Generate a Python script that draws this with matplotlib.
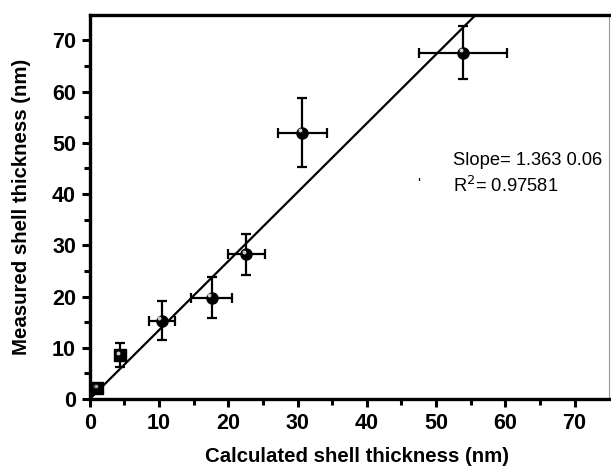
import matplotlib.pyplot as plt
import numpy as np

plt.rcParams['font.family'] = ['Liberation Sans', 'DejaVu Sans']

# calculated (x) vs measured (y) shell thickness, nm
x_calc = [1.1, 4.4, 10.4, 17.6, 22.6, 30.7, 53.9]
y_meas = [2.1, 8.6, 15.3, 19.8, 28.2, 52.0, 67.6]
x_err = [0.0, 0.0, 1.9, 3.0, 2.7, 3.5, 6.4]
y_err = [0.4, 2.3, 3.75, 4.05, 4.05, 6.8, 5.2]
square_pts = [0, 1]  # first two drawn as squares
slope = 1.345
intercept = 0.0

fig = plt.figure(figsize=(6.11, 4.66), dpi=100)
ax = fig.add_axes([0.147, 0.1438, 0.85, 0.8247])

# fitted line
xf = np.array([0, 75])
ax.plot(xf, slope * xf + intercept, color='black', lw=1.6, zorder=2)

for i in range(len(x_calc)):
    xe = x_err[i] if x_err[i] > 0 else None
    mk = 's' if i in square_pts else 'o'
    ax.errorbar(x_calc[i], y_meas[i], xerr=xe, yerr=y_err[i], fmt=mk,
                color='black', ms=8, elinewidth=1.6, capsize=3.5,
                capthick=1.6, zorder=3)
    # highlight on the marker
    ax.plot(x_calc[i] - 0.35, y_meas[i] + 0.45, 'o', ms=2.8,
            color='#cfcfcf', mec='none', zorder=4)
ax.plot(0.9, 2.5, 'o', ms=3, color='#aaaaaa', mec='black', mew=0.5, zorder=5)

ax.set_xlim(0, 75)
ax.set_ylim(0, 75)
ax.set_xticks(range(0, 71, 10))
ax.set_yticks(range(0, 71, 10))
ax.set_xticks(range(5, 71, 10), minor=True)
ax.set_yticks(range(5, 71, 10), minor=True)
ax.tick_params(which='major', direction='out', length=6, width=2.2,
               labelsize=15.5, pad=4)
ax.tick_params(which='minor', direction='out', length=4, width=2.2)
for lab in ax.get_xticklabels() + ax.get_yticklabels():
    lab.set_fontweight('bold')

for s in ['left', 'bottom', 'top']:
    ax.spines[s].set_linewidth(2.4)
ax.spines['right'].set_linewidth(0.8)
ax.spines['right'].set_color('#999999')

ax.set_xlabel('Calculated shell thickness (nm)', fontsize=14.7,
              fontweight='bold')
ax.set_ylabel('Measured shell thickness (nm)', fontsize=14.7,
              fontweight='bold')
ax.xaxis.set_label_coords(0.514, -0.124)
ax.yaxis.set_label_coords(-0.114, 0.5)

ax.text(52.5, 46.6, 'Slope= 1.363 0.06', fontsize=13.2, va='center')
ax.text(52.5, 41.6, r'R$^2$= 0.97581', fontsize=13.2, va='center')
ax.text(47.2, 42.0, "'", fontsize=11, va='center')

fig.savefig('out.png', dpi=100)
